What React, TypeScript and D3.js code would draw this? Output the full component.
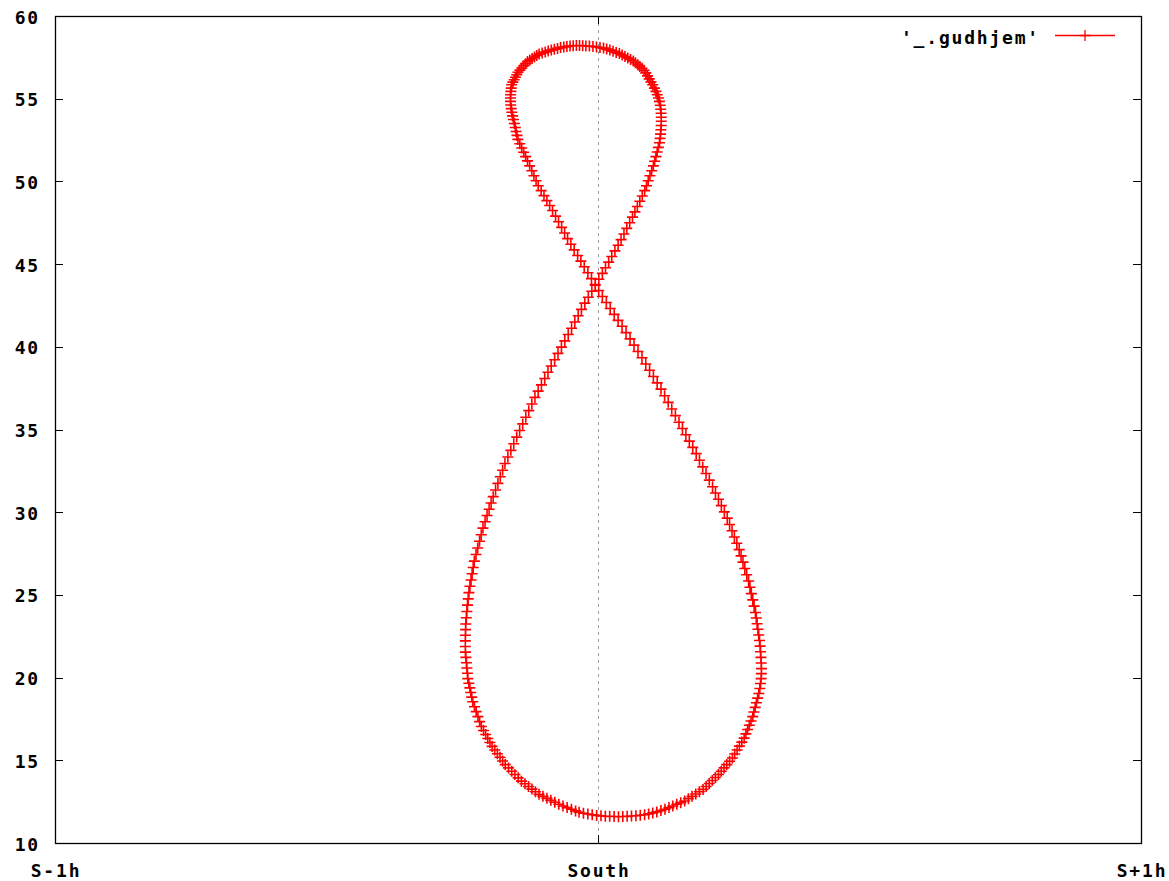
import React, { useEffect } from 'react';
import * as d3 from 'd3';

// Axis ticks
const xTickValues = [-60, 0, 60];
const xTickLabels = ['S-1h', 'South', 'S+1h'];
const yTickValues = [10, 15, 20, 25, 30, 35, 40, 45, 50, 55, 60];
const seriesName = "'_.gudhjem'";

// Daily sun position (Jan 1 .. Dec 31): horizontal offset from south in minutes of time
const azimuthMin = [
  -2.48, -2.94, -3.41, -3.87, -4.33, -4.77, -5.21, -5.64, -6.08, -6.52,
  -6.91, -7.30, -7.68, -8.07, -8.46, -8.82, -9.18, -9.53, -9.89, -10.25,
  -10.54, -10.83, -11.12, -11.41, -11.70, -11.94, -12.18, -12.41, -12.65, -12.89,
  -13.08, -13.27, -13.46, -13.65, -13.84, -13.95, -14.06, -14.16, -14.27, -14.38,
  -14.43, -14.49, -14.54, -14.60, -14.65, -14.66, -14.66, -14.65, -14.63, -14.61,
  -14.55, -14.49, -14.42, -14.34, -14.26, -14.15, -14.03, -13.91, -13.79, -13.67,
  -13.48, -13.29, -13.09, -12.90, -12.71, -12.48, -12.26, -12.03, -11.81, -11.58,
  -11.32, -11.06, -10.80, -10.54, -10.28, -9.96, -9.63, -9.31, -8.98, -8.66,
  -8.32, -7.98, -7.65, -7.31, -6.97, -6.61, -6.25, -5.89, -5.53, -5.17,
  -4.79, -4.42, -4.04, -3.67, -3.29, -2.92, -2.56, -2.19, -1.83, -1.46,
  -1.07, -0.68, -0.30, 0.09, 0.48, 0.83, 1.18, 1.52, 1.87, 2.22,
  2.55, 2.87, 3.18, 3.50, 3.81, 4.08, 4.35, 4.62, 4.89, 5.16,
  5.36, 5.55, 5.74, 5.93, 6.12, 6.26, 6.40, 6.54, 6.67, 6.80,
  6.86, 6.91, 6.95, 6.98, 6.99, 6.99, 6.97, 6.93, 6.87, 6.79,
  6.68, 6.55, 6.40, 6.23, 6.04, 5.85, 5.66, 5.47, 5.28, 5.09,
  4.86, 4.62, 4.39, 4.15, 3.91, 3.60, 3.29, 2.98, 2.67, 2.36,
  2.01, 1.66, 1.31, 0.96, 0.61, 0.22, -0.17, -0.56, -0.95, -1.34,
  -1.69, -2.04, -2.39, -2.74, -3.09, -3.44, -3.78, -4.13, -4.47, -4.82,
  -5.16, -5.50, -5.83, -6.17, -6.51, -6.77, -7.02, -7.28, -7.53, -7.79,
  -8.00, -8.21, -8.42, -8.63, -8.84, -8.98, -9.12, -9.26, -9.40, -9.54,
  -9.59, -9.63, -9.66, -9.68, -9.67, -9.64, -9.59, -9.52, -9.44, -9.34,
  -9.24, -9.14, -9.05, -8.95, -8.85, -8.64, -8.43, -8.21, -8.00, -7.79,
  -7.55, -7.31, -7.08, -6.84, -6.60, -6.28, -5.97, -5.65, -5.34, -5.02,
  -4.69, -4.36, -4.02, -3.69, -3.36, -3.00, -2.63, -2.25, -1.89, -1.52,
  -1.12, -0.72, -0.32, 0.08, 0.48, 0.92, 1.35, 1.79, 2.22, 2.66,
  3.10, 3.54, 3.98, 4.42, 4.86, 5.28, 5.70, 6.12, 6.54, 6.96,
  7.36, 7.76, 8.15, 8.55, 8.95, 9.33, 9.71, 10.09, 10.47, 10.85,
  11.21, 11.57, 11.94, 12.30, 12.66, 12.98, 13.31, 13.63, 13.96, 14.28,
  14.54, 14.81, 15.07, 15.34, 15.60, 15.81, 16.02, 16.22, 16.43, 16.64,
  16.79, 16.94, 17.10, 17.25, 17.40, 17.49, 17.58, 17.67, 17.76, 17.85,
  17.91, 17.96, 18.00, 18.03, 18.06, 18.05, 18.02, 17.96, 17.88, 17.77,
  17.64, 17.50, 17.37, 17.23, 17.10, 16.91, 16.72, 16.53, 16.34, 16.15,
  15.89, 15.63, 15.37, 15.11, 14.85, 14.54, 14.23, 13.93, 13.62, 13.31,
  12.97, 12.63, 12.29, 11.95, 11.61, 11.20, 10.80, 10.39, 9.99, 9.58,
  9.14, 8.71, 8.27, 7.84, 7.40, 6.95, 6.50, 6.05, 5.60, 5.15,
  4.67, 4.19, 3.70, 3.22, 2.74, 2.26, 1.78, 1.29, 0.81, 0.33,
  -0.15, -0.64, -1.12, -1.61, -2.09,
];

// Daily noon altitude in degrees (Jan 1 .. Dec 31)
const altitudeDeg = [
  11.94, 12.04, 12.14, 12.24, 12.34, 12.46, 12.58, 12.70, 12.82, 12.94,
  13.10, 13.26, 13.42, 13.58, 13.74, 13.94, 14.14, 14.34, 14.54, 14.74,
  14.96, 15.18, 15.40, 15.62, 15.84, 16.08, 16.32, 16.56, 16.80, 17.04,
  17.34, 17.64, 17.94, 18.24, 18.54, 18.82, 19.10, 19.38, 19.66, 19.94,
  20.26, 20.58, 20.90, 21.22, 21.54, 21.88, 22.22, 22.56, 22.90, 23.24,
  23.62, 24.00, 24.38, 24.76, 25.14, 25.52, 25.90, 26.28, 26.66, 27.04,
  27.44, 27.84, 28.24, 28.64, 29.04, 29.42, 29.80, 30.18, 30.56, 30.94,
  31.34, 31.74, 32.14, 32.54, 32.94, 33.34, 33.74, 34.14, 34.54, 34.94,
  35.34, 35.74, 36.14, 36.54, 36.94, 37.32, 37.70, 38.08, 38.46, 38.84,
  39.22, 39.60, 39.98, 40.36, 40.74, 41.12, 41.50, 41.88, 42.26, 42.64,
  43.00, 43.36, 43.72, 44.08, 44.44, 44.78, 45.12, 45.46, 45.80, 46.14,
  46.48, 46.82, 47.16, 47.50, 47.84, 48.16, 48.48, 48.80, 49.12, 49.44,
  49.74, 50.04, 50.34, 50.64, 50.94, 51.22, 51.50, 51.78, 52.06, 52.34,
  52.60, 52.86, 53.12, 53.38, 53.64, 53.88, 54.12, 54.36, 54.60, 54.84,
  55.04, 55.24, 55.44, 55.64, 55.84, 56.02, 56.20, 56.38, 56.56, 56.72,
  56.84, 56.95, 57.06, 57.17, 57.28, 57.37, 57.46, 57.55, 57.64, 57.73,
  57.80, 57.87, 57.94, 58.00, 58.06, 58.10, 58.13, 58.16, 58.18, 58.19,
  58.20, 58.21, 58.21, 58.20, 58.19, 58.16, 58.13, 58.09, 58.04, 57.99,
  57.94, 57.88, 57.82, 57.76, 57.70, 57.61, 57.52, 57.43, 57.34, 57.25,
  57.12, 56.99, 56.86, 56.73, 56.60, 56.45, 56.30, 56.15, 56.00, 55.84,
  55.64, 55.44, 55.24, 55.04, 54.84, 54.62, 54.40, 54.18, 53.96, 53.74,
  53.50, 53.26, 53.02, 52.78, 52.54, 52.28, 52.02, 51.76, 51.50, 51.24,
  50.94, 50.64, 50.34, 50.04, 49.74, 49.44, 49.14, 48.84, 48.54, 48.24,
  47.90, 47.56, 47.22, 46.88, 46.54, 46.20, 45.86, 45.52, 45.18, 44.84,
  44.48, 44.12, 43.76, 43.40, 43.04, 42.68, 42.32, 41.96, 41.60, 41.24,
  40.86, 40.48, 40.10, 39.72, 39.34, 38.96, 38.58, 38.20, 37.82, 37.44,
  37.04, 36.64, 36.24, 35.84, 35.44, 35.06, 34.68, 34.30, 33.92, 33.54,
  33.14, 32.74, 32.34, 31.94, 31.54, 31.16, 30.78, 30.40, 30.02, 29.64,
  29.26, 28.88, 28.50, 28.12, 27.74, 27.36, 26.98, 26.60, 26.22, 25.84,
  25.46, 25.08, 24.70, 24.32, 23.94, 23.60, 23.26, 22.92, 22.58, 22.24,
  21.90, 21.56, 21.22, 20.88, 20.54, 20.24, 19.94, 19.64, 19.34, 19.04,
  18.76, 18.48, 18.20, 17.92, 17.64, 17.38, 17.12, 16.86, 16.60, 16.34,
  16.10, 15.86, 15.62, 15.38, 15.14, 14.94, 14.74, 14.54, 14.34, 14.14,
  13.96, 13.78, 13.60, 13.42, 13.24, 13.10, 12.96, 12.82, 12.68, 12.54,
  12.44, 12.34, 12.24, 12.14, 12.04, 11.96, 11.88, 11.82, 11.76, 11.71,
  11.68, 11.65, 11.63, 11.61, 11.60, 11.59, 11.60, 11.61, 11.62, 11.64,
  11.67, 11.71, 11.75, 11.80, 11.86,
];

const W = 1169;
const H = 881;
const FONT = "'DejaVu Sans Mono', 'Liberation Mono', monospace";

export default function App() {
  useEffect(() => {
    document.body.style.margin = '0';
  }, []);

  const left = 55, right = 1141, top = 16, bottom = 843;
  const x = d3.scaleLinear().domain([-60, 60]).range([left, right]);
  const y = d3.scaleLinear().domain([10, 60]).range([bottom, top]);
  const tickLen = 8;
  const m = 5.5;
  const plus = (cx: number, cy: number) => `M${cx - m},${cy}H${cx + m}M${cx},${cy - m}V${cy + m}`;
  const markerPath = azimuthMin.map((v, i) => plus(x(v), y(altitudeDeg[i]))).join('');

  const textStyle = { fontFamily: FONT, fontWeight: 700, fontSize: 18, letterSpacing: '1.8px' } as const;

  const legendY = 35;
  const legendLineX0 = 1055;
  const legendLineX1 = 1115;

  return (
    <svg width={W} height={H} style={{ position: 'absolute', left: 0, top: 0, background: '#fff' }}>
      <rect x={0} y={0} width={W} height={H} fill="#fff" />
      {/* vertical dotted line at South */}
      <line x1={Math.round(x(0)) + 0.5} x2={Math.round(x(0)) + 0.5} y1={top} y2={bottom}
        stroke="#a0a0a0" strokeWidth={1} strokeDasharray="3,4" />
      {/* y ticks (mirrored) */}
      {yTickValues.map((v) => (
        <g key={'y' + v}>
          <line x1={left} x2={left + tickLen} y1={Math.round(y(v)) + 0.5} y2={Math.round(y(v)) + 0.5} stroke="#000" strokeWidth={1} />
          <line x1={right - tickLen} x2={right} y1={Math.round(y(v)) + 0.5} y2={Math.round(y(v)) + 0.5} stroke="#000" strokeWidth={1} />
          <text x={40} y={y(v) + 1} textAnchor="end" dominantBaseline="central" style={textStyle} fill="#000">{v}</text>
        </g>
      ))}
      {/* x ticks (mirrored) */}
      {xTickValues.map((v, i) => (
        <g key={'x' + v}>
          <line x1={Math.round(x(v)) + 0.5} x2={Math.round(x(v)) + 0.5} y1={bottom} y2={bottom - tickLen} stroke="#000" strokeWidth={1} />
          <line x1={Math.round(x(v)) + 0.5} x2={Math.round(x(v)) + 0.5} y1={top} y2={top + tickLen} stroke="#000" strokeWidth={1} />
          <text x={x(v) + 1} y={870} textAnchor="middle" dominantBaseline="central" style={textStyle} fill="#000">{xTickLabels[i]}</text>
        </g>
      ))}
      {/* frame */}
      <rect x={left + 0.5} y={top + 0.5} width={right - left} height={bottom - top} fill="none" stroke="#000" strokeWidth={1.3} />
      {/* data markers */}
      <path d={markerPath} fill="none" stroke="#ff0000" strokeWidth={1.6} />
      {/* legend */}
      <text x={1040} y={legendY + 2} textAnchor="end" dominantBaseline="central" style={textStyle} fill="#000">{seriesName}</text>
      <line x1={legendLineX0} x2={legendLineX1} y1={legendY + 0.5} y2={legendY + 0.5} stroke="#ff0000" strokeWidth={1.3} />
      <path d={plus((legendLineX0 + legendLineX1) / 2, legendY + 0.5)} stroke="#ff0000" strokeWidth={1.3} />
    </svg>
  );
}
